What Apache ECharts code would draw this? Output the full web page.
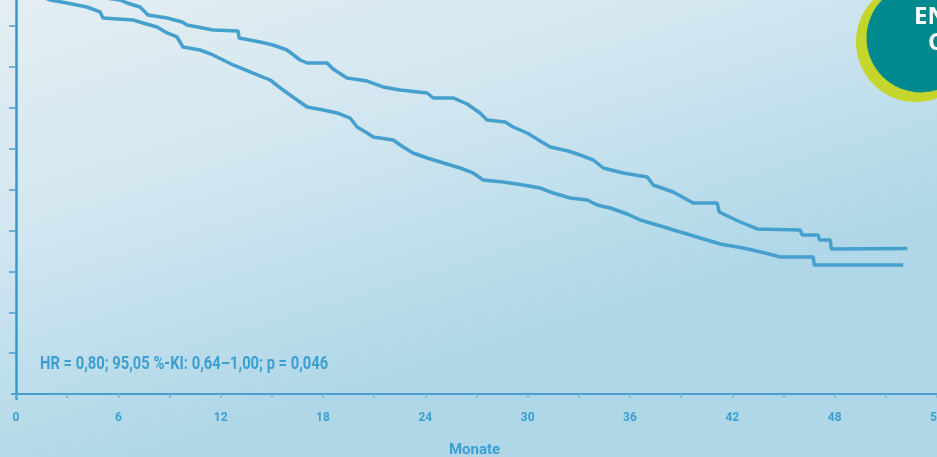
<!DOCTYPE html>
<html>
<head>
<meta charset="utf-8">
<script src="https://cdn.jsdelivr.net/npm/echarts@6/dist/echarts.min.js"></script>
<style>
html,body{margin:0;padding:0;}
#chart{width:937px;height:457px;}
</style>
</head>
<body>
<div id="chart"></div>
<script>
// Upper curve (months, survival %)
const upperX = [0, 6.10, 6.51, 7.27, 7.74, 8.86, 9.74, 10.03, 11.55, 13.02, 13.08, 14.31, 15.07, 15.89, 16.66, 17.07, 18.24, 18.59, 19.41, 20.59, 21.52, 22.52, 24.11, 24.46, 25.63, 26.45, 27.21, 27.62, 28.68, 29.15, 29.97, 30.73, 31.32, 32.38, 33.08, 33.84, 34.43, 35.60, 37.01, 37.36, 38.53, 39.71, 41.11, 41.23, 42.46, 43.46, 45.98, 46.10, 47.04, 47.10, 47.74, 47.80, 52.26];
const upperY = [100, 96.39, 95.66, 94.68, 92.72, 91.99, 91.01, 90.28, 89.05, 88.81, 87.09, 86.12, 85.38, 84.16, 81.71, 80.98, 80.98, 79.51, 77.31, 76.57, 75.11, 74.37, 73.64, 72.42, 72.42, 70.95, 68.75, 67.03, 66.54, 65.32, 63.85, 61.90, 60.43, 59.45, 58.47, 57.25, 55.29, 54.07, 53.09, 51.13, 49.42, 46.73, 46.73, 44.53, 42.08, 40.37, 40.12, 38.90, 38.90, 37.68, 37.68, 35.47, 35.6];
// Lower curve
const lowerX = [0, 1.99, 2.99, 4.16, 4.93, 5.10, 6.86, 7.45, 8.27, 8.86, 9.44, 9.79, 10.79, 11.55, 12.73, 13.90, 14.90, 15.66, 16.48, 17.07, 18.01, 18.83, 19.59, 20.00, 20.59, 20.94, 22.11, 22.70, 23.28, 24.11, 26.04, 26.80, 27.39, 28.56, 29.74, 30.73, 31.50, 32.49, 33.49, 34.08, 34.84, 35.84, 36.60, 38.18, 38.94, 40.12, 41.29, 42.64, 43.93, 44.81, 46.74, 46.80, 52.02];
const lowerY = [100, 96.39, 95.66, 94.68, 93.46, 92.00, 91.50, 90.77, 89.79, 88.32, 87.34, 84.89, 84.16, 82.94, 80.49, 78.53, 76.82, 74.37, 71.93, 70.21, 69.48, 68.75, 67.52, 65.32, 63.85, 62.87, 62.14, 60.43, 58.96, 57.74, 55.29, 54.07, 52.35, 51.87, 51.13, 50.40, 49.17, 47.95, 47.46, 46.24, 45.50, 44.04, 42.57, 40.61, 39.63, 38.17, 36.70, 35.72, 34.50, 33.52, 33.52, 31.56, 31.56];

const xTicks = [0, 3, 6, 9, 12, 15, 18, 21, 24, 27, 30, 33, 36, 39, 42, 45, 48, 51, 54];
const xLabels = [0, 6, 12, 18, 24, 30, 36, 42, 48, 54];
const yTicks = [10, 20, 30, 40, 50, 60, 70, 80, 90];
const xName = 'Monate';
const hrText = 'HR = 0,80; 95,05 %-KI: 0,64–1,00; p = 0,046';

const FONT = "'Roboto', 'Liberation Sans', sans-serif";
const BLUE = '#3c9fd0';

const chart = echarts.init(document.getElementById('chart'), null, {renderer: 'canvas'});
const pairs = (xs, ys) => xs.map((x, i) => [x, ys[i]]);

chart.setOption({
  animation: false,
  backgroundColor: new echarts.graphic.LinearGradient(0, 0, 0.15, 1, [
    {offset: 0, color: '#e4eef2'},
    {offset: 0.45, color: '#d3e7f0'},
    {offset: 1, color: '#afd7e8'}
  ]),
  grid: {left: 12, right: 0, top: 0, bottom: 58, containLabel: false, outerBoundsMode: 'none'},
  xAxis: {
    type: 'value', min: -0.235, max: 54,
    name: xName, nameLocation: 'middle', nameGap: 44,
    nameTextStyle: {color: BLUE, fontFamily: FONT, fontWeight: 'bold', fontSize: 15},
    axisLine: {show: true, lineStyle: {color: '#4a9ecb', width: 2}},
    axisTick: {show: true, customValues: xTicks, length: 4, lineStyle: {color: '#78b6d6', width: 1.5}},
    axisLabel: {show: true, customValues: xLabels, margin: 13, color: BLUE, fontFamily: FONT, fontWeight: 'bold', fontSize: 12},
    splitLine: {show: false}
  },
  yAxis: {
    type: 'value', min: -1.22, max: 96.39,
    axisLine: {show: true, lineStyle: {color: '#3a98c8', width: 2.5}},
    axisTick: {show: true, customValues: yTicks, length: 7, lineStyle: {color: '#4a9ecb', width: 1.5}},
    axisLabel: {show: false},
    splitLine: {show: false}
  },
  series: [
    {
      type: 'line', data: pairs(upperX, upperY), showSymbol: false, clip: true,
      lineStyle: {color: '#45a0cd', width: 3.5}
    },
    {
      type: 'line', data: pairs(lowerX, lowerY), showSymbol: false, clip: true,
      lineStyle: {color: '#45a0cd', width: 3.5}
    }
  ],
  graphic: [
    {type: 'text', x: 40, y: 355, scaleX: 0.82,
     style: {text: hrText, fill: BLUE, font: "bold 18px 'Roboto', sans-serif"}, z: 5},
    {type: 'circle', shape: {cx: 916, cy: 42, r: 60}, style: {fill: '#c5d52c'}, z: 10},
    {type: 'circle', shape: {cx: 921, cy: 38, r: 54.5}, style: {fill: '#008a8f'}, z: 11},
    {type: 'text', x: 914, y: 5, style: {text: 'EN', fill: '#ffffff', font: "bold 24px 'Open Sans', sans-serif"}, z: 12},
    {type: 'text', x: 928, y: 31, style: {text: 'C', fill: '#ffffff', font: "bold 24px 'Open Sans', sans-serif"}, z: 12}
  ]
});
</script>
</body>
</html>
